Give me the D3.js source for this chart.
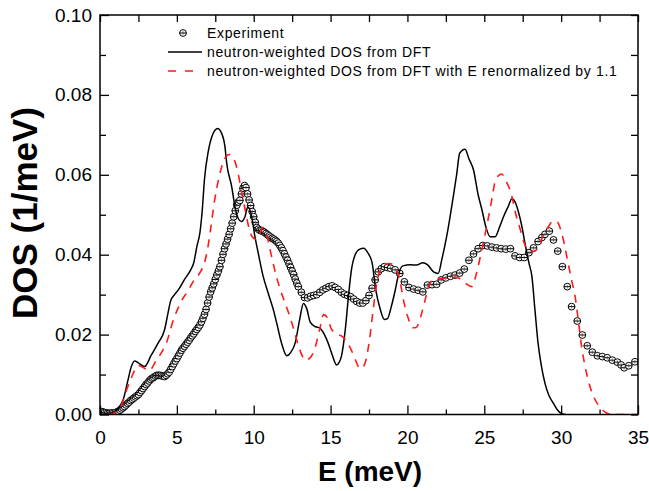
<!DOCTYPE html>
<html>
<head>
<meta charset="utf-8">
<script src="https://cdn.jsdelivr.net/npm/d3@7/dist/d3.min.js"></script>
<style>
  html, body { margin: 0; padding: 0; background: #fff; }
  svg { display: block; }
  text { font-family: Arial, "Liberation Sans", sans-serif; fill: #000; }
</style>
</head>
<body>
<svg id="chart" width="649" height="491"></svg>
<script>
// Measured phonon DOS (energy in meV, DOS in 1/meV)
const E_EXP = [0,0.1,0.2,0.3,0.4,0.5,0.6,0.7,0.8,0.9,1.0,1.1,1.2,1.3,1.4,1.5,1.6,1.7,1.8,1.9,2.0,2.1,2.2,2.3,2.4,2.5,2.6,2.7,2.8,2.9,
  3.0,3.1,3.2,3.3,3.4,3.5,3.6,3.7,3.8,3.9,4.0,4.1,4.2,4.3,4.4,4.5,4.6,4.7,4.8,4.9,5.0,5.1,5.2,5.3,5.4,5.5,5.6,5.7,5.8,5.9,
  6.0,6.1,6.2,6.3,6.4,6.5,6.6,6.7,6.8,6.9,7.0,7.1,7.2,7.3,7.4,7.5,7.6,7.7,7.8,7.9,8.0,8.1,8.2,8.3,8.4,8.5,8.6,8.7,8.8,8.9,
  9.0,9.1,9.2,9.3,9.4,9.5,9.6,9.7,9.8,9.9,10.0,10.1,10.2,10.3,10.4,10.5,10.6,10.7,10.8,10.9,
  11.0,11.1,11.2,11.3,11.4,11.5,11.6,11.7,11.8,11.9,12.0,12.1,12.2,12.3,12.4,12.5,12.6,12.7,12.8,12.9,
  13.1,13.3,13.5,13.7,13.9,14.1,14.3,14.5,14.7,14.9,15.1,15.3,15.5,15.7,15.9,16.1,16.3,16.5,16.7,16.9,17.1,17.3,17.5,17.7,17.9,18.1,18.3,18.5,18.7,18.9,
  19.2,19.5,19.8,20.1,20.4,20.7,21.0,21.3,21.6,21.9,22.2,22.5,22.8,23.1,23.4,23.7,24.0,24.3,24.6,24.9,25.2,25.5,25.8,26.1,26.4,26.7,27.0,27.3,27.6,27.9,
  28.2,28.5,28.75,28.95,29.23,29.5,29.78,30.08,30.4,30.68,31.05,31.38,31.7,32.03,32.36,32.68,33.0,33.33,33.66,33.9,34.1,34.4,34.8];
const DOS_EXP = [.0008,.0007,.0006,.0005,.0004,.0003,.0003,.0003,.0004,.0004,.0005,.0006,.0008,.0011,.0014,.0017,.0020,.0024,.0028,.0031,.0035,.0038,.0041,.0044,.0047,.0050,.0055,.0060,.0065,.0070,
  .0075,.0079,.0084,.0088,.0091,.0093,.0096,.0098,.0098,.0098,.0097,.0096,.0095,.0098,.0102,.0106,.0113,.0120,.0127,.0134,.0140,.0147,.0154,.0161,.0166,.0171,.0176,.0181,.0186,.0192,
  .0197,.0202,.0208,.0213,.0218,.0224,.0232,.0241,.0251,.0263,.0279,.0294,.0307,.0317,.0327,.0338,.0349,.0359,.0370,.0386,.0401,.0415,.0427,.0439,.0451,.0465,.0479,.0495,.0510,.0524,
  .0532,.0536,.0552,.0566,.0573,.0568,.0552,.0537,.0523,.0508,.0495,.0481,.0468,.0464,.0461,.0460,.0458,.0456,.0453,.0450,
  .0447,.0444,.0441,.0439,.0436,.0433,.0429,.0423,.0417,.0410,.0402,.0394,.0386,.0377,.0368,.0359,.0350,.0339,.0329,.0320,
  .0306,.0293,.0292,.0296,.0298,.0300,.0306,.0312,.0316,.0320,.0322,.0318,.0313,.0306,.0301,.0298,.0295,.0289,.0283,.0279,.0279,.0285,.0298,.0316,.0337,.0357,.0365,.0370,.0368,.0366,
  .0362,.0353,.0332,.0318,.0314,.0311,.0307,.0324,.0325,.0326,.0337,.0342,.0346,.0349,.0354,.0364,.0386,.0402,.0415,.0423,.0422,.0419,.0417,.0415,.0414,.0415,.0397,.0393,.0393,.0405,
  .0417,.0433,.0443,.0451,.0459,.0437,.0409,.0370,.0320,.0270,.0234,.0199,.0172,.0156,.0147,.0145,.0142,.0136,.0131,.0124,.0117,.0122,.0132];

// Neutron-weighted DOS from DFT
const E_DFT = [0.6,0.9,1.17,1.5,1.82,2.04,2.25,2.47,2.9,3.34,3.77,4.2,4.42,4.6,4.85,5.1,5.5,5.9,6.1,6.3,
  6.5,6.65,6.8,7.05,7.3,7.65,7.9,8.13,8.24,8.57,8.78,9.0,9.2,9.43,9.62,9.87,10.08,10.3,10.62,10.95,
  11.28,11.5,11.8,12.15,12.4,12.69,13.0,13.23,13.45,13.67,14.0,14.3,14.6,14.85,15.1,15.39,15.55,15.7,15.95,16.15,
  16.35,16.6,16.9,17.15,17.45,17.7,17.95,18.2,18.5,18.7,18.95,19.2,19.45,19.7,20.2,20.6,21.0,21.3,21.7,22.0,
  22.25,22.55,22.98,23.2,23.4,23.75,24.0,24.3,24.6,24.85,25.1,25.38,25.7,26.0,26.25,26.55,26.8,27.05,27.2,27.45,
  27.65,27.9,28.1,28.3,28.5,28.7,28.95,29.2,29.5,29.75,30.0,30.3];
const DOS_DFT = [0,0.0004,0.0015,0.0036,0.0086,0.012,0.0134,0.013,0.012,0.0149,0.0178,0.0212,0.0253,0.0285,0.03,0.0312,0.0338,0.0362,0.038,0.042,
  0.0455,0.051,0.059,0.066,0.0698,0.0716,0.0705,0.067,0.063,0.057,0.052,0.049,0.0483,0.0495,0.052,0.0495,0.0445,0.0403,0.0345,0.0303,
  0.0262,0.0228,0.018,0.0147,0.0155,0.0178,0.024,0.0278,0.0265,0.0232,0.022,0.0216,0.02,0.0178,0.015,0.0124,0.013,0.0145,0.021,0.029,
  0.036,0.04,0.0414,0.0416,0.0403,0.038,0.031,0.0268,0.0238,0.024,0.027,0.031,0.0355,0.0372,0.0375,0.0374,0.038,0.0375,0.0357,0.0353,
  0.039,0.0445,0.0545,0.06,0.0654,0.0664,0.064,0.0612,0.055,0.0512,0.047,0.0445,0.0445,0.047,0.0495,0.052,0.054,0.0528,0.051,0.047,
  0.0428,0.038,0.0345,0.026,0.0178,0.0125,0.0078,0.0048,0.0028,0.0012,0.0003,0];

// Neutron-weighted DOS from DFT, energy axis renormalized by 1.1
const E_DFT11 = [0.6,0.9,1.2,1.45,1.7,2.0,2.25,2.5,2.75,3.2,3.65,4.1,4.35,4.6,4.85,5.1,5.35,5.7,6.1,6.5,
  6.8,7.0,7.2,7.45,7.75,8.05,8.4,8.7,8.95,9.2,9.43,9.66,9.9,10.12,10.37,10.58,10.86,11.09,11.33,11.68,
  12.05,12.41,12.65,12.98,13.37,13.64,13.96,14.3,14.55,14.8,15.04,15.4,15.73,16.06,16.34,16.61,16.93,17.1,17.27,17.55,
  17.77,17.99,18.26,18.59,18.87,19.2,19.47,19.75,20.02,20.35,20.57,20.85,21.12,21.4,21.67,22.22,22.66,23.1,23.43,23.87,
  24.2,24.48,24.8,25.28,25.52,25.74,26.13,26.4,26.73,27.06,27.34,27.61,27.92,28.27,28.6,28.88,29.2,29.5,29.76,29.95,
  30.2,30.42,30.69,30.91,31.13,31.35,31.57,31.85,32.12,32.45,32.73,33.0,33.33,35];
const DOS_DFT11 = [0,0.0003,0.0012,0.0028,0.0058,0.0088,0.011,0.0123,0.0119,0.011,0.0135,0.0162,0.0182,0.0215,0.0245,0.0268,0.0288,0.0308,0.0335,0.0355,
  0.038,0.0415,0.0465,0.0535,0.0595,0.0635,0.0651,0.064,0.061,0.056,0.0515,0.0472,0.0445,0.0439,0.045,0.0468,0.0448,0.0408,0.0368,0.0318,
  0.0278,0.0238,0.0207,0.0164,0.0136,0.0141,0.0163,0.0215,0.025,0.0242,0.0215,0.0202,0.0196,0.0183,0.0162,0.0137,0.0115,0.0118,0.0132,0.0192,
  0.0262,0.0325,0.0363,0.0377,0.0378,0.0366,0.0343,0.0285,0.0245,0.0217,0.0218,0.0243,0.0282,0.0322,0.0337,0.0341,0.034,0.0344,0.034,0.0326,
  0.032,0.0352,0.0405,0.0495,0.0545,0.0588,0.0602,0.0585,0.0556,0.05,0.0463,0.0428,0.0408,0.0408,0.0428,0.0452,0.0472,0.0485,0.0482,0.0465,
  0.0428,0.0385,0.0335,0.0295,0.0232,0.0165,0.0118,0.0073,0.0044,0.0022,0.001,0.0003,0,0];

// Axis ticks
const X_MAJOR = [0, 5, 10, 15, 20, 25, 30, 35];
const X_MINOR = [2.5, 7.5, 12.5, 17.5, 22.5, 27.5, 32.5];
const Y_MAJOR = [0, 0.02, 0.04, 0.06, 0.08, 0.10];
const Y_MINOR = [0.01, 0.03, 0.05, 0.07, 0.09];

const LEGEND = ["Experiment", "neutron-weighted DOS from DFT", "neutron-weighted DOS from DFT with E renormalized by 1.1"];

const svg = d3.select("#chart");
const L = 100, R = 638, T = 15, B = 414.5;

const x = d3.scaleLinear().domain([0, 35]).range([L, R]);
const y = d3.scaleLinear().domain([0, 0.1]).range([B, T]);

// clip plot contents to the frame
svg.append("defs").append("clipPath").attr("id", "plotclip")
  .append("rect").attr("x", L).attr("y", T - 2).attr("width", R - L).attr("height", B - T + 2);

const plot = svg.append("g").attr("clip-path", "url(#plotclip)");

// experimental points: open circles with a horizontal error bar
const expPts = d3.zip(E_EXP, DOS_EXP);
const marker = (g, cx, cy) => {
  g.append("circle").attr("cx", cx).attr("cy", cy).attr("r", 3.4)
    .attr("fill", "#fff").attr("stroke", "#000").attr("stroke-width", 1);
  g.append("line").attr("x1", cx - 3.4).attr("x2", cx + 3.4).attr("y1", cy).attr("y2", cy)
    .attr("stroke", "#000").attr("stroke-width", 1);
  g.append("line").attr("x1", cx).attr("x2", cx).attr("y1", cy - 1.8).attr("y2", cy + 1.8)
    .attr("stroke", "#444").attr("stroke-width", 0.7);
};
const expG = plot.append("g");
expPts.forEach(([e, d]) => marker(expG, x(e), y(d)));

const line = d3.line().x(d => x(d[0])).y(d => y(d[1])).curve(d3.curveMonotoneX);

plot.append("path").datum(d3.zip(E_DFT, DOS_DFT))
  .attr("d", line).attr("fill", "none").attr("stroke", "#000").attr("stroke-width", 1.5);

plot.append("path").datum(d3.zip(E_DFT11, DOS_DFT11))
  .attr("d", line).attr("fill", "none").attr("stroke", "#ff1a1a").attr("stroke-width", 1.6)
  .attr("stroke-dasharray", "8,7");

// axes with inward ticks
const axisStyle = g => {
  g.selectAll(".domain").remove();
  g.selectAll(".tick line").attr("stroke", "#000").attr("stroke-width", 1.3);
  g.selectAll("text").style("font-size", "19px").attr("fill", "#000");
};

svg.append("g").attr("transform", `translate(0,${B})`)
  .call(d3.axisBottom(x).tickValues(X_MAJOR).tickSizeInner(-9).tickSizeOuter(0).tickPadding(16).tickFormat(d3.format("d")))
  .call(axisStyle);
svg.append("g").attr("transform", `translate(0,${B})`)
  .call(d3.axisBottom(x).tickValues(X_MINOR).tickSizeInner(-5).tickSizeOuter(0).tickFormat(""))
  .call(axisStyle);
svg.append("g").attr("transform", `translate(0,${T})`)
  .call(d3.axisTop(x).tickValues(X_MAJOR.concat(X_MINOR)).tickSizeInner(-7).tickSizeOuter(0).tickFormat(""))
  .call(axisStyle);

svg.append("g").attr("transform", `translate(${L},0)`)
  .call(d3.axisLeft(y).tickValues(Y_MAJOR).tickSizeInner(-9).tickSizeOuter(0).tickPadding(8).tickFormat(d3.format(".2f")))
  .call(axisStyle);
svg.append("g").attr("transform", `translate(${L},0)`)
  .call(d3.axisLeft(y).tickValues(Y_MINOR).tickSizeInner(-6).tickSizeOuter(0).tickFormat(""))
  .call(axisStyle);
svg.append("g").attr("transform", `translate(${R},0)`)
  .call(d3.axisRight(y).tickValues(Y_MAJOR.concat(Y_MINOR)).tickSizeInner(-7).tickSizeOuter(0).tickFormat(""))
  .call(axisStyle);

// frame
svg.append("rect").attr("x", L).attr("y", T).attr("width", R - L).attr("height", B - T)
  .attr("fill", "none").attr("stroke", "#000").attr("stroke-width", 1.5);

// axis titles
svg.append("text").attr("x", 370).attr("y", 481).attr("text-anchor", "middle")
  .style("font-size", "28px").style("font-weight", "bold").text("E (meV)");
svg.append("text").attr("transform", "translate(37,213) rotate(-90)").attr("text-anchor", "middle")
  .style("font-size", "35px").style("font-weight", "bold").text("DOS (1/meV)");

// legend
const leg = svg.append("g");
marker(leg, 183, 33);
leg.append("line").attr("x1", 168).attr("x2", 202).attr("y1", 52).attr("y2", 52)
  .attr("stroke", "#000").attr("stroke-width", 1.5);
leg.append("line").attr("x1", 168).attr("x2", 202).attr("y1", 71).attr("y2", 71)
  .attr("stroke", "#ff1a1a").attr("stroke-width", 1.6).attr("stroke-dasharray", "8,9");
LEGEND.forEach((t, i) => {
  leg.append("text").attr("x", 207).attr("y", 38 + i * 19)
    .style("font-size", "14px").style("letter-spacing", "0.65px").text(t);
});
</script>
</body>
</html>
